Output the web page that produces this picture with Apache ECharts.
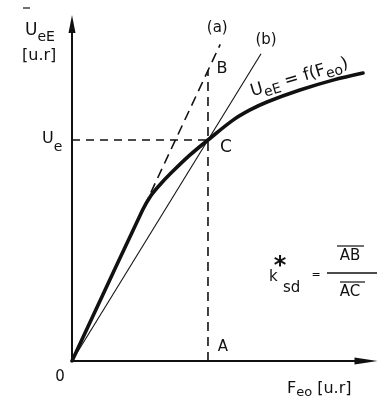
<!DOCTYPE html>
<html>
<head>
<meta charset="utf-8">
<script src="https://cdn.jsdelivr.net/npm/echarts@6/dist/echarts.min.js"></script>
<style>
  html, body { margin: 0; padding: 0; background: #fff; }
  #chart { width: 387px; height: 411px; }
</style>
</head>
<body>
<div id="chart"></div>
<script>
// Magnetisation characteristic U_eE = f(F_eo), relative units (C at 1,1)
const curveFeo = [0, 0.520, 0.580, 0.650, 0.721, 0.860, 1.000, 1.184, 1.309, 1.434, 1.676, 1.919, 2.140];
const curveUeE = [0, 0.684, 0.748, 0.800, 0.846, 0.928, 1.000, 1.090, 1.136, 1.172, 1.226, 1.271, 1.303];

// (a): extension of the initial linear part, (b): straight line through O and C
const lineAFeo = [0.530, 1.090];
const lineAUeE = [0.697, 1.433];
const lineBFeo = [0, 1.39];
const lineBUeE = [0, 1.39];

// operating point C and the construction points
const pointC = [1, 1];      // F_eo = A, U_eE = U_e
const pointB = [1, 1.315];  // on line (a) above A

const X_MAX = 2.162;
const Y_MAX = 1.525;

const FONT = '"DejaVu Sans", sans-serif';
const INK = '#111';

const pairs = (xs, ys) => xs.map((x, i) => [x, ys[i]]);

const chart = echarts.init(document.getElementById('chart'), null, { renderer: 'canvas' });

const axisCommon = {
  type: 'value',
  min: 0,
  axisLine: {
    show: true,
    symbol: ['none', 'triangle'],
    lineStyle: { color: INK, width: 2 }
  },
  axisTick: { show: false },
  axisLabel: { show: false },
  splitLine: { show: false }
};

chart.setOption({
  animation: false,
  backgroundColor: '#fff',
  grid: { left: 72, right: 21, top: 24, bottom: 50 },
  xAxis: Object.assign({}, axisCommon, {
    max: X_MAX,
    axisLine: Object.assign({}, axisCommon.axisLine, { symbolSize: [7, 23] })
  }),
  yAxis: Object.assign({}, axisCommon, {
    max: Y_MAX,
    axisLine: Object.assign({}, axisCommon.axisLine, { symbolSize: [7, 18] })
  }),
  series: [
    {
      name: 'lineB',
      type: 'line',
      data: pairs(lineBFeo, lineBUeE),
      symbol: 'none',
      lineStyle: { color: INK, width: 1.1 }
    },
    {
      name: 'lineA',
      type: 'line',
      data: pairs(lineAFeo, lineAUeE),
      symbol: 'none',
      lineStyle: { color: INK, width: 1.6, type: [10, 6] }
    },
    {
      name: 'Ue level',
      type: 'line',
      data: [[0, pointC[1]], pointC],
      symbol: 'none',
      lineStyle: { color: INK, width: 1.3, type: [8, 6] }
    },
    {
      name: 'A-B',
      type: 'line',
      data: [[pointB[0], 0], pointB],
      symbol: 'none',
      lineStyle: { color: INK, width: 1.6, type: [9, 6] }
    },
    {
      name: 'UeE = f(Feo)',
      type: 'line',
      data: pairs(curveFeo, curveUeE),
      symbol: 'none',
      smooth: 0.35,
      lineStyle: { color: INK, width: 3.6, cap: 'round', join: 'round' }
    }
  ]
});

// text with subscripts: runs of [text, fontSize, verticalShift]
const measureCtx = document.createElement('canvas').getContext('2d');
function textRun(x, y, parts, extra) {
  let cx = 0;
  const children = parts.map(([t, size, dy]) => {
    const font = size + 'px ' + FONT;
    measureCtx.font = font;
    const el = {
      type: 'text', x: cx, y: dy,
      style: { text: t, font: font, fill: INK, textAlign: 'left', textVerticalAlign: 'middle' }
    };
    cx += measureCtx.measureText(t).width;
    return el;
  });
  return Object.assign({ type: 'group', x: x, y: y, children: children }, extra || {});
}
function label(x, y, t, size, weight) {
  return {
    type: 'text', x: x, y: y,
    style: { text: t, font: (weight ? weight + ' ' : '') + size + 'px ' + FONT, fill: INK, textAlign: 'center', textVerticalAlign: 'middle' }
  };
}
function rule(x1, y1, x2, y2, w) {
  return { type: 'line', shape: { x1: x1, y1: y1, x2: x2, y2: y2 }, style: { stroke: INK, lineWidth: w || 1.2 } };
}

const px = p => chart.convertToPixel({ gridIndex: 0 }, p);
const O = px([0, 0]);
const C = px(pointC);
const B = px(pointB);
const A = px([pointB[0], 0]);
const aTop = px([lineAFeo[1], lineAUeE[1]]);
const bTop = px([lineBFeo[1], lineBUeE[1]]);

chart.setOption({
  graphic: [
    // axis titles
    rule(23, 8, 30, 8, 1.2),
    textRun(25, 31, [['U', 17, 0], ['eE', 14, 6]]),
    textRun(22, 56, [['[u.r]', 16, 0]]),
    textRun(287, 389, [['F', 16, 0], ['eo', 13, 4], [' [u.r]', 16, 0]]),
    label(O[0] - 12, O[1] + 16, '0', 15),
    // construction points
    textRun(42, C[1] - 1, [['U', 16, 0], ['e', 14, 8]]),
    label(C[0] + 18, C[1] + 8, 'C', 17),
    label(B[0] + 14, B[1] - 2, 'B', 16),
    label(A[0] + 15, A[1] - 14, 'A', 15),
    label(aTop[0] - 3, aTop[1] - 16, '(a)', 15),
    label(bTop[0] + 5, bTop[1] - 14, '(b)', 15),
    // curve caption, written along the curve
    textRun(251, 92, [['U', 17, 0], ['eE', 14, 5], [' = f(F', 17, 0], ['eo', 14, 5], [')', 17, 0]], { rotation: 0.29 }),
    // k*_sd = AB / AC
    textRun(269, 277, [['k', 15, 0]]),
    label(280, 267, '*', 24, 'bold'),
    textRun(283, 288, [['sd', 15, 0]]),
    label(316, 275, '=', 11),
    label(350, 256, 'AB', 15),
    rule(337, 246, 364, 246, 1.2),
    rule(327, 273, 377, 273, 1.4),
    rule(340, 282, 365, 282, 1.2),
    label(350, 292, 'AC', 15)
  ]
});
</script>
</body>
</html>
